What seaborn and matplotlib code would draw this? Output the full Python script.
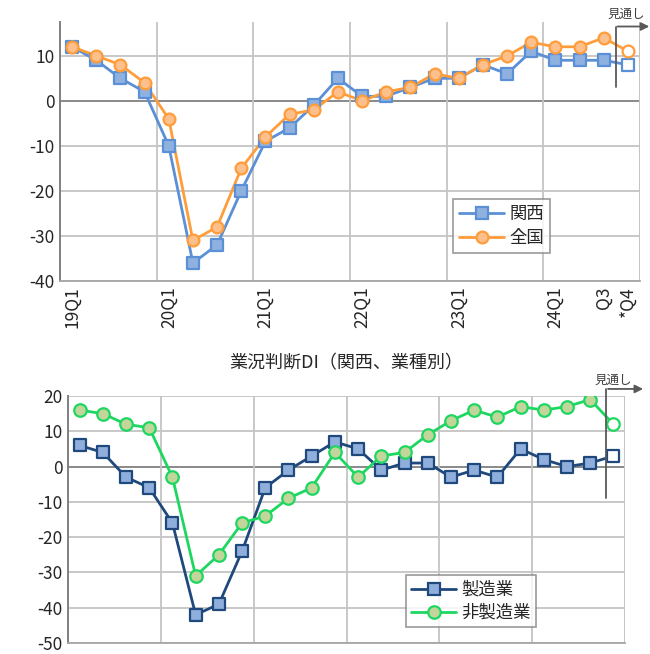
import numpy as np
import pandas as pd
import matplotlib
matplotlib.use("Agg")
import matplotlib.pyplot as plt
import seaborn as sns
from matplotlib.lines import Line2D

# Quarterly periods, 2019Q1 .. 2024Q4 (last quarter is a forecast)
quarters = ["19Q1", "19Q2", "19Q3", "19Q4", "20Q1", "20Q2", "20Q3", "20Q4",
            "21Q1", "21Q2", "21Q3", "21Q4", "22Q1", "22Q2", "22Q3", "22Q4",
            "23Q1", "23Q2", "23Q3", "23Q4", "24Q1", "24Q2", "24Q3", "24Q4"]
tick_labels = {0: "19Q1", 4: "20Q1", 8: "21Q1", 12: "22Q1", 16: "23Q1",
               20: "24Q1", 22: "Q3", 23: "*Q4"}

# 業況判断DI: 関西 vs 全国
kansai = [12, 9, 5, 2, -10, -36, -32, -20, -9, -6, -1, 5,
          1, 1, 3, 5, 5, 8, 6, 11, 9, 9, 9, 8]
zenkoku = [12, 10, 8, 4, -4, -31, -28, -15, -8, -3, -2, 2,
           0, 2, 3, 6, 5, 8, 10, 13, 12, 12, 14, 11]

# 業況判断DI（関西、業種別）
seizo = [6, 4, -3, -6, -16, -42, -39, -24, -6, -1, 3, 7,
         5, -1, 1, 1, -3, -1, -3, 5, 2, 0, 1, 3]
hiseizo = [16, 15, 12, 11, -3, -31, -25, -16, -14, -9, -6, 4,
           -3, 3, 4, 9, 13, 16, 14, 17, 16, 17, 19, 12]

sns.set_theme(style="white")
plt.rcParams["font.family"] = ["Noto Sans CJK JP", "DejaVu Sans"]

W, H = 650, 654
fig = plt.figure(figsize=(W / 100, H / 100), dpi=100)

def px_axes(left, top, right, bottom):
    return fig.add_axes([left / W, 1 - bottom / H, (right - left) / W, (bottom - top) / H])

ax1 = px_axes(60, 22, 640, 281)
ax2 = px_axes(68, 396, 625, 643)

x = np.arange(len(quarters))
TEXT = "#262626"


def draw_series(ax, values, line_c, face_c, marker, ms, lw, label):
    df = pd.DataFrame({"q": x, "v": values})
    sns.lineplot(data=df, x="q", y="v", ax=ax, color=line_c, lw=lw,
                 zorder=3, legend=False)
    actual = df.iloc[:-1]
    fcst = df.iloc[-1:]
    sns.scatterplot(data=actual, x="q", y="v", ax=ax, marker=marker, s=ms ** 2,
                    color=face_c, edgecolor=line_c, linewidth=1.6, zorder=4,
                    legend=False)
    sns.scatterplot(data=fcst, x="q", y="v", ax=ax, marker=marker, s=ms ** 2,
                    color="white", edgecolor=line_c, linewidth=1.6, zorder=4,
                    legend=False)
    return Line2D([], [], color=line_c, lw=lw, marker=marker, markersize=ms,
                  markerfacecolor=face_c, markeredgecolor=line_c,
                  markeredgewidth=1.6, label=label)


def style_axes(ax, ylo, yhi, yticks):
    ax.set_xlim(-0.5, len(quarters) - 0.5)
    ax.set_ylim(ylo, yhi)
    ax.set_yticks(yticks)
    ax.set_yticklabels([str(t) for t in yticks], fontsize=12.5, color=TEXT)
    for t in yticks:
        if t == 0:
            ax.axhline(0, color="#808080", lw=1.3, zorder=1)
        else:
            ax.axhline(t, color="#c4c4c4", lw=1.3, zorder=1)
    for b in np.arange(3.5, len(quarters), 4):
        ax.axvline(b, color="#c4c4c4", lw=1.3, zorder=1)
    ax.axvline(len(quarters) - 0.5, color="#c4c4c4", lw=1.3, zorder=1)
    for s in ["top", "right"]:
        ax.spines[s].set_visible(False)
    ax.spines["left"].set_color("#808080")
    ax.spines["left"].set_linewidth(1.4)
    ax.spines["bottom"].set_color("#a6a6a6")
    ax.spines["bottom"].set_linewidth(1.3)
    ax.tick_params(axis="both", length=0, pad=4)
    ax.set_xlabel("")
    ax.set_ylabel("")
    ax.grid(False)


# ---- top panel ----
h1 = draw_series(ax1, kansai, "#5b8fd6", "#8eb1df", "s", 8.5, 2.0, "関西")
h2 = draw_series(ax1, zenkoku, "#ff9d3b", "#fdbf8c", "o", 8.5, 2.0, "全国")
style_axes(ax1, -40, 17.5, [-40, -30, -20, -10, 0, 10])
ax1.set_xticks(list(tick_labels.keys()))
ax1.set_xticklabels(list(tick_labels.values()), rotation=90, fontsize=12.5,
                    color=TEXT, va="top")
leg1 = ax1.legend(handles=[h1, h2], loc="lower left",
                  bbox_to_anchor=((453 - 60) / 580, (281 - 253) / 259),
                  fontsize=12.5, frameon=True, fancybox=False, edgecolor="#808080",
                  handlelength=2.6, handletextpad=0.3, borderpad=0.35,
                  labelspacing=0.35, borderaxespad=0)
leg1.get_frame().set_linewidth(1.2)

# forecast marker (見通し)
ax1.plot([22.5, 22.5], [3, 16.5], color="#595959", lw=1.3, clip_on=False, zorder=5)
ax1.annotate("", xy=(24.0, 16.5), xytext=(22.45, 16.5),
             arrowprops=dict(arrowstyle="-|>", color="#595959", lw=1.3,
                             mutation_scale=12), annotation_clip=False)
ax1.text(22.95, 17.8, "見通し", fontsize=9, color="#404040", ha="center",
         va="bottom", clip_on=False)

# ---- bottom panel ----
h3 = draw_series(ax2, seizo, "#1f497d", "#8faedb", "s", 9.0, 2.0, "製造業")
h4 = draw_series(ax2, hiseizo, "#1ed760", "#c2d69b", "o", 9.0, 2.0, "非製造業")
style_axes(ax2, -50, 20, [-50, -40, -30, -20, -10, 0, 10, 20])
ax2.set_xticks([])
ax2.set_title("業況判断DI（関西、業種別）", fontsize=13, color=TEXT, pad=20)
leg2 = ax2.legend(handles=[h3, h4], loc="lower left",
                  bbox_to_anchor=((406 - 68) / 557, (643 - 627) / 247),
                  fontsize=12.5, frameon=True, fancybox=False, edgecolor="#808080",
                  handlelength=2.6, handletextpad=0.3, borderpad=0.3,
                  labelspacing=0.3, borderaxespad=0)
leg2.get_frame().set_linewidth(1.2)

ax2.plot([22.7, 22.7], [-9, 22], color="#595959", lw=1.3, clip_on=False, zorder=5)
ax2.annotate("", xy=(24.4, 22), xytext=(22.65, 22),
             arrowprops=dict(arrowstyle="-|>", color="#595959", lw=1.3,
                             mutation_scale=12), annotation_clip=False)
ax2.text(23.0, 22.6, "見通し", fontsize=9, color="#404040", ha="center",
         va="bottom", clip_on=False)

fig.savefig("out.png", dpi=100)
